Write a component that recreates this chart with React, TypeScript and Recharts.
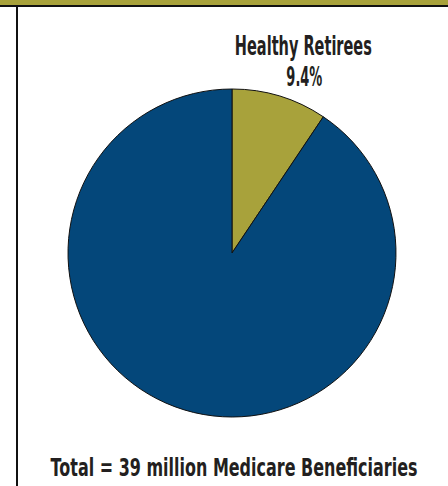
import React from 'react';
import { PieChart, Pie, Cell } from 'recharts';

const categories = ['Healthy Retirees', 'Other Beneficiaries'];
const shares = [9.4, 90.6];
const sliceColors = ['#a8a23b', '#04477a'];
const totalLabel = 'Total = 39 million Medicare Beneficiaries';

const chartData = categories.map((name, i) => ({ name, value: shares[i] }));

const FONT = '"DejaVu Sans", sans-serif';

const RADIAN = Math.PI / 180;

// DejaVu is wide, so squeeze each label to the width of the condensed original
function renderLabel(props: any) {
  const { cx, cy, midAngle, outerRadius, index } = props;
  if (index !== 0) return null;
  const r = outerRadius + 40;
  const x = cx + r * Math.cos(-midAngle * RADIAN) + 12;
  const y = cy + r * Math.sin(-midAngle * RADIAN);
  return (
    <g fill="#231f20" fontFamily={FONT} fontWeight="bold" fontSize={26}>
      <text x={x} y={y - 3} textAnchor="middle" textLength={137} lengthAdjust="spacingAndGlyphs">
        {chartData[index].name}
      </text>
      <text x={x + 1} y={y + 28} textAnchor="middle" textLength={36} lengthAdjust="spacingAndGlyphs">
        {`${chartData[index].value}%`}
      </text>
    </g>
  );
}

export default function App() {
  return (
    <div style={{ position: 'absolute', left: 0, top: 0, width: 448, height: 486, background: '#fff', overflow: 'hidden' }}>
      <div style={{ position: 'absolute', left: 0, top: 0, width: 448, height: 5, background: '#a8a23b' }} />
      <div style={{ position: 'absolute', left: 0, top: 5, width: 448, height: 2, background: '#111' }} />
      <div style={{ position: 'absolute', left: 16, top: 5, width: 2, height: 481, background: '#111' }} />
      <div style={{ position: 'absolute', left: 0, top: 0 }}>
        <PieChart width={448} height={486} margin={{ top: 0, right: 0, bottom: 0, left: 0 }}>
          <Pie
            data={chartData}
            dataKey="value"
            nameKey="name"
            cx={232}
            cy={253}
            outerRadius={164}
            startAngle={90}
            endAngle={-270}
            stroke="#111"
            strokeWidth={1}
            label={renderLabel}
            labelLine={false}
            isAnimationActive={false}
          >
            {chartData.map((d, i) => (
              <Cell key={d.name} fill={sliceColors[i]} />
            ))}
          </Pie>
        </PieChart>
      </div>
      <svg width={448} height={486} style={{ position: 'absolute', left: 0, top: 0 }}>
        <text
          x={234}
          y={476}
          textAnchor="middle"
          fill="#231f20"
          fontFamily={FONT}
          fontWeight="bold"
          fontSize={25}
          textLength={367}
          lengthAdjust="spacingAndGlyphs"
        >
          {totalLabel}
        </text>
      </svg>
    </div>
  );
}
